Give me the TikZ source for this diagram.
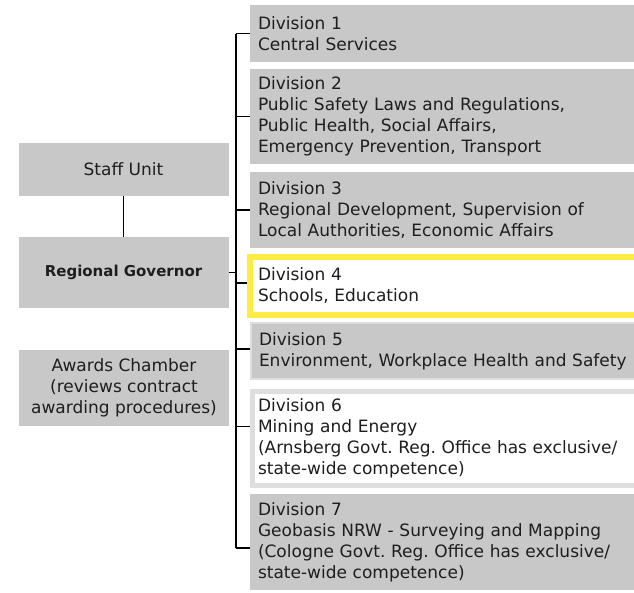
\documentclass[tikz,border=0pt]{standalone}
\usepackage{fontspec}
\setmainfont{DejaVu Sans}
\frenchspacing
\definecolor{boxgray}{RGB}{200,200,201}
\definecolor{rimgray}{RGB}{222,222,223}
\definecolor{govyellow}{RGB}{255,236,66}
\definecolor{inkgray}{RGB}{30,30,30}
\newcommand{\orgfont}{\fontsize{17}{21}\selectfont}
\newcommand{\govfont}{\fontsize{15}{18}\selectfont\bfseries}

\begin{document}
\begin{tikzpicture}[x=1pt,y=-1pt,
  every node/.style={outer sep=0pt,text=inkgray},
  divbox/.style={anchor=north west,fill=boxgray,align=left,text width=374pt,
    inner xsep=8pt,inner ysep=0pt,font=\orgfont},
  leftbox/.style={fill=boxgray,align=center,minimum width=210pt,font=\orgfont},
  link/.style={line width=1.5pt,black}]
\useasboundingbox (0,0) rectangle (634,592);
% left column
\node[leftbox,minimum height=53pt] (staff) at (123.5,169.5) {Staff Unit};
\node[leftbox,minimum height=71pt,font=\govfont] (gov) at (123.5,272.5) {Regional Governor};
\node[leftbox,minimum height=76pt] (awards) at (124,388)
  {Awards Chamber\\(reviews contract\\awarding procedures)};
% divisions
\node[divbox,minimum height=57pt] (d1) at (250,5) {Division 1\\Central Services};
\node[divbox,minimum height=95pt] (d2) at (250,69)
  {Division 2\\Public Safety Laws and Regulations,\\Public Health, Social Affairs,\\Emergency Prevention, Transport};
\node[divbox,minimum height=76pt] (d3) at (250,172)
  {Division 3\\Regional Development, Supervision of\\Local Authorities, Economic Affairs};
\node[divbox,minimum height=58pt,fill=white,draw=govyellow,line width=6pt,outer sep=3pt] (d4) at (247,254)
  {Division 4\\Schools, Education};
\node[divbox,minimum height=56pt,draw=rimgray,line width=2pt,outer sep=1pt] (d5) at (250,322)
  {Division 5\\Environment, Workplace Health and Safety};
\node[divbox,minimum height=94pt,fill=white,draw=rimgray,line width=5pt,outer sep=2.5pt,inner xsep=5.5pt] (d6) at (250,389)
  {Division 6\\Mining and Energy\\(Arnsberg Govt. Reg. Office has exclusive/\\state-wide competence)};
\node[divbox,minimum height=96pt] (d7) at (250,494)
  {Division 7\\Geobasis NRW - Surveying and Mapping\\(Cologne Govt. Reg. Office has exclusive/\\state-wide competence)};
% connectors
\coordinate (bus) at (236,0);
\draw[link] (staff) -- (gov);
\draw[link] (gov.east) -- (gov.east -| bus);
\draw[link] (d1.west -| bus) -- ([yshift=-6pt]d7.west -| bus);
\draw[link] (d1.west -| bus) -- (d1.west);
\draw[link] (d2.west -| bus) -- (d2.west);
\draw[link] (d3.west -| bus) -- (d3.west);
\draw[link] ([yshift=3pt]d4.west -| bus) -- ([yshift=3pt]d4.west);
\draw[link] ([yshift=2pt]d5.west -| bus) -- ([yshift=2pt]d5.west);
\draw[link] ([yshift=12pt]d6.west -| bus) -- ([yshift=12pt]d6.west);
\draw[link] ([yshift=-6pt]d7.west -| bus) -- ([yshift=-6pt]d7.west);
\end{tikzpicture}
\end{document}
